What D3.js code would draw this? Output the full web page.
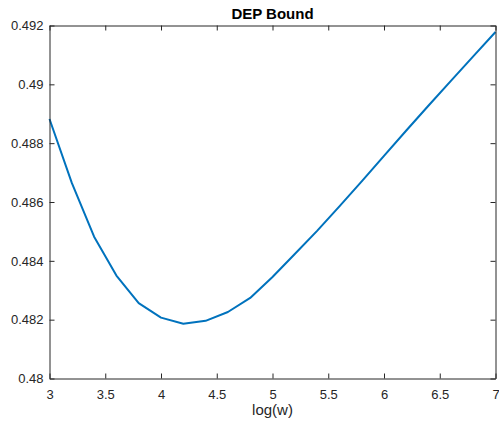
<!DOCTYPE html>
<html>
<head>
<meta charset="utf-8">
<script src="https://cdn.jsdelivr.net/npm/d3@7/dist/d3.min.js"></script>
<style>
  html, body { margin: 0; padding: 0; background: #fff; }
  svg { display: block; font-family: "Liberation Sans", Arial, Helvetica, sans-serif; }
</style>
</head>
<body>
<svg id="chart" width="499" height="423"></svg>
<script>
// log(w) sample points and the corresponding DEP bound
const logW = [3.0, 3.2, 3.4, 3.6, 3.8, 4.0, 4.2, 4.4, 4.6, 4.8, 5.0,
              5.2, 5.4, 5.6, 5.8, 6.0, 6.2, 6.4, 6.6, 6.8, 7.0];
const depBound = [0.48882, 0.48665, 0.48482, 0.48350, 0.48256, 0.48207, 0.48186,
                  0.48196, 0.48226, 0.48274, 0.48345, 0.48423, 0.48502, 0.48585,
                  0.48670, 0.48757, 0.48843, 0.48928, 0.49012, 0.49095, 0.49178];

const xTicks = [3, 3.5, 4, 4.5, 5, 5.5, 6, 6.5, 7];
const yTicks = [0.48, 0.482, 0.484, 0.486, 0.488, 0.49, 0.492];

const titleText = "DEP Bound";
const xLabelText = "log(w)";

const axisColor = "#262626";
const lineColor = "#0072BD";

const svg = d3.select("#chart");
const plotLeft = 49.5, plotRight = 495.5, plotTop = 25.5, plotBottom = 378.5;

const x = d3.scaleLinear().domain([3, 7]).range([plotLeft, plotRight]);
const y = d3.scaleLinear().domain([0.48, 0.492]).range([plotBottom, plotTop]);

const fmtY = d => String(+d.toFixed(3));
const fmtX = d => String(d);

function styleAxis(g) {
  g.selectAll("path.domain").attr("stroke", axisColor).attr("stroke-width", 1);
  g.selectAll(".tick line").attr("stroke", axisColor).attr("stroke-width", 1);
  g.selectAll(".tick text").attr("fill", axisColor).style("font-size", "13px");
  g.attr("font-family", null);
}

// curve
const line = d3.line().x((d, i) => x(logW[i])).y(d => y(d));
svg.append("path")
  .datum(depBound)
  .attr("d", line)
  .attr("fill", "none")
  .attr("stroke", lineColor)
  .attr("stroke-width", 2)
  .attr("stroke-linejoin", "round");

// box axes with inward ticks
svg.append("g")
  .attr("transform", `translate(0,${plotBottom})`)
  .call(d3.axisBottom(x).tickValues(xTicks).tickFormat(fmtX).tickSizeInner(-5).tickSizeOuter(0).tickPadding(11))
  .call(styleAxis);

svg.append("g")
  .attr("transform", `translate(0,${plotTop})`)
  .call(d3.axisTop(x).tickValues(xTicks).tickFormat("").tickSizeInner(-5).tickSizeOuter(0))
  .call(styleAxis);

svg.append("g")
  .attr("transform", `translate(${plotLeft},0)`)
  .call(d3.axisLeft(y).tickValues(yTicks).tickFormat(fmtY).tickSizeInner(-5).tickSizeOuter(0).tickPadding(6))
  .call(styleAxis);

svg.append("g")
  .attr("transform", `translate(${plotRight},0)`)
  .call(d3.axisRight(y).tickValues(yTicks).tickFormat("").tickSizeInner(-5).tickSizeOuter(0))
  .call(styleAxis);

// title and axis label
svg.append("text")
  .attr("x", (plotLeft + plotRight) / 2)
  .attr("y", 18.5)
  .attr("text-anchor", "middle")
  .attr("fill", "#000")
  .style("font-size", "15px")
  .style("font-weight", "bold")
  .text(titleText);

svg.append("text")
  .attr("x", (plotLeft + plotRight) / 2)
  .attr("y", 415)
  .attr("text-anchor", "middle")
  .attr("fill", axisColor)
  .style("font-size", "15px")
  .text(xLabelText);
</script>
</body>
</html>
